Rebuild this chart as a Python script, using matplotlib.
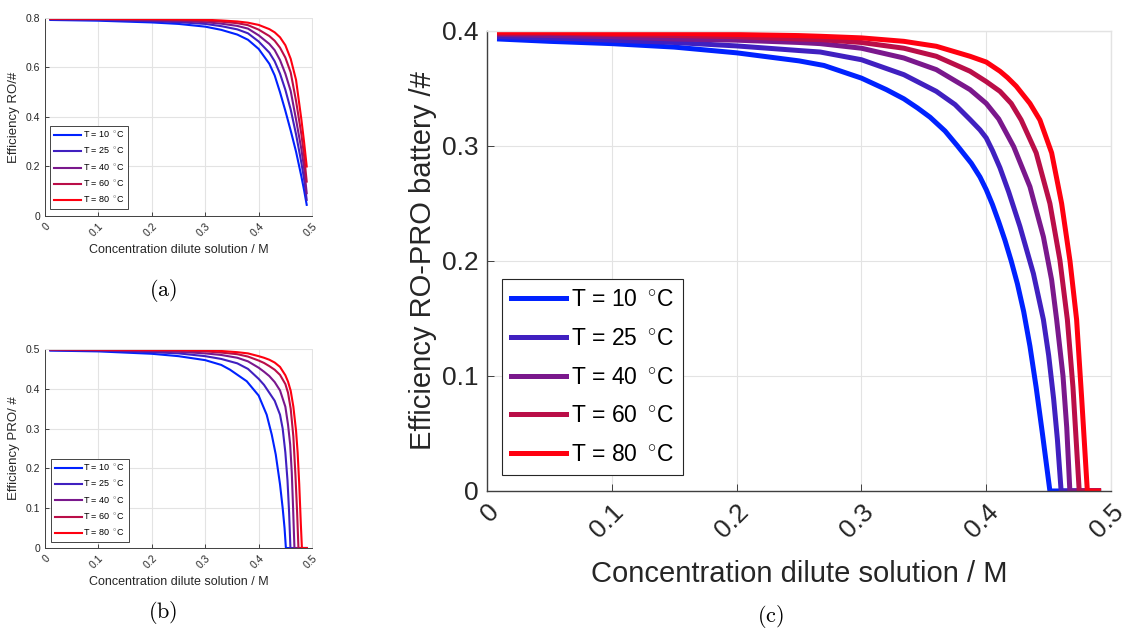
import matplotlib
matplotlib.use("Agg")
import matplotlib.pyplot as plt

plt.rcParams['font.family'] = ['Liberation Sans', 'DejaVu Sans']
plt.rcParams['mathtext.fontset'] = 'cm'

labels = ['T = 10 $\\,^{\\circ}$C', 'T = 25 $\\,^{\\circ}$C', 'T = 40 $\\,^{\\circ}$C',
          'T = 60 $\\,^{\\circ}$C', 'T = 80 $\\,^{\\circ}$C']
colors = ['#0022ff', '#4020c0', '#7a188c', '#ba0e48', '#ff0010']

# (a) RO efficiency, shared x
xa = [0.01, 0.1, 0.2, 0.25, 0.3, 0.33, 0.36, 0.38, 0.40, 0.42, 0.43, 0.44,
      0.45, 0.46, 0.47, 0.48, 0.485, 0.49]
ya10 = [0.792, 0.789, 0.782, 0.776, 0.765, 0.752, 0.733, 0.712, 0.675, 0.615,
        0.568, 0.50, 0.425, 0.345, 0.26, 0.16, 0.105, 0.045]
ya25 = [0.794, 0.792, 0.787, 0.783, 0.776, 0.767, 0.754, 0.738, 0.705, 0.66,
        0.625, 0.575, 0.51, 0.43, 0.33, 0.215, 0.15, 0.065]
ya40 = [0.796, 0.794, 0.791, 0.788, 0.783, 0.777, 0.768, 0.757, 0.73, 0.695,
        0.67, 0.63, 0.575, 0.505, 0.39, 0.27, 0.195, 0.092]
ya60 = [0.797, 0.796, 0.794, 0.792, 0.789, 0.785, 0.779, 0.771, 0.753, 0.727,
        0.708, 0.68, 0.64, 0.58, 0.465, 0.33, 0.245, 0.139]
ya80 = [0.798, 0.797, 0.796, 0.795, 0.793, 0.79, 0.786, 0.781, 0.772, 0.755,
        0.742, 0.722, 0.69, 0.635, 0.55, 0.39, 0.30, 0.2]

# (b) PRO efficiency
xb10 = [0.01, 0.1, 0.2, 0.25, 0.3, 0.33, 0.3464, 0.3777, 0.40, 0.415, 0.4245,
        0.432, 0.44, 0.445, 0.4485, 0.451, 0.49]
yb10 = [0.496, 0.494, 0.488, 0.482, 0.472, 0.46, 0.448, 0.419, 0.383, 0.335,
        0.285, 0.235, 0.16, 0.10, 0.05, 0.0, 0.0]
xb25 = [0.01, 0.1, 0.2, 0.25, 0.3, 0.33, 0.36, 0.38, 0.40, 0.41, 0.42, 0.43,
        0.44, 0.445, 0.45, 0.454, 0.457, 0.4595, 0.49]
yb25 = [0.497, 0.496, 0.492, 0.489, 0.482, 0.475, 0.464, 0.45, 0.425, 0.41,
        0.39, 0.37, 0.335, 0.30, 0.24, 0.17, 0.09, 0.0, 0.0]
xb40 = [0.01, 0.1, 0.2, 0.25, 0.3, 0.33, 0.36, 0.38, 0.40, 0.41, 0.42, 0.43,
        0.44, 0.45, 0.455, 0.459, 0.462, 0.4645, 0.467, 0.49]
yb40 = [0.498, 0.497, 0.495, 0.493, 0.489, 0.485, 0.478, 0.469, 0.453, 0.443,
        0.432, 0.417, 0.396, 0.355, 0.31, 0.26, 0.19, 0.1, 0.0, 0.0]
xb60 = [0.01, 0.1, 0.2, 0.25, 0.3, 0.33, 0.36, 0.38, 0.40, 0.41, 0.42, 0.43,
        0.44, 0.45, 0.455, 0.46, 0.465, 0.469, 0.472, 0.4745, 0.49]
yb60 = [0.499, 0.498, 0.497, 0.496, 0.494, 0.491, 0.487, 0.481, 0.471, 0.465,
        0.457, 0.448, 0.435, 0.412, 0.39, 0.35, 0.28, 0.18, 0.09, 0.0, 0.0]
xb80 = [0.01, 0.1, 0.2, 0.25, 0.3, 0.33, 0.36, 0.38, 0.40, 0.41, 0.42, 0.43,
        0.44, 0.45, 0.455, 0.46, 0.465, 0.47, 0.473, 0.476, 0.479, 0.481, 0.49]
yb80 = [0.5, 0.499, 0.498, 0.498, 0.497, 0.495, 0.492, 0.489, 0.482, 0.478,
        0.473, 0.466, 0.455, 0.434, 0.418, 0.395, 0.355, 0.295, 0.24, 0.16,
        0.06, 0.0, 0.0]

# (c) RO-PRO battery efficiency
xc10 = [0.01, 0.05, 0.1, 0.15, 0.2, 0.25, 0.27, 0.3, 0.32, 0.334, 0.345,
        0.355, 0.367, 0.377, 0.388, 0.395, 0.4, 0.405, 0.41, 0.415, 0.42,
        0.425, 0.43, 0.435, 0.44, 0.445, 0.451, 0.49]
yc10 = [0.393, 0.391, 0.389, 0.386, 0.381, 0.374, 0.370, 0.359, 0.349, 0.341,
        0.333, 0.325, 0.313, 0.30, 0.285, 0.273, 0.262, 0.249, 0.234, 0.218,
        0.200, 0.180, 0.156, 0.126, 0.090, 0.05, 0.0, 0.0]
xc25 = [0.01, 0.05, 0.1, 0.15, 0.2, 0.25, 0.267, 0.3, 0.334, 0.36, 0.375,
        0.387, 0.395, 0.4, 0.405, 0.411, 0.418, 0.427, 0.4378, 0.4458, 0.45,
        0.454, 0.457, 0.46, 0.49]
yc25 = [0.395, 0.394, 0.392, 0.390, 0.387, 0.383, 0.3817, 0.375, 0.362,
        0.3475, 0.336, 0.323, 0.314, 0.307, 0.296, 0.281, 0.26, 0.23, 0.189,
        0.149, 0.118, 0.08, 0.045, 0.0, 0.0]
xc40 = [0.01, 0.05, 0.1, 0.15, 0.2, 0.25, 0.267, 0.3, 0.334, 0.36, 0.387,
        0.4, 0.41, 0.422, 0.435, 0.4458, 0.4524, 0.4564, 0.4615, 0.4645, 0.467,
        0.49]
yc40 = [0.397, 0.396, 0.395, 0.393, 0.392, 0.390, 0.389, 0.385, 0.3765,
        0.3664, 0.349, 0.337, 0.3235, 0.2994, 0.2646, 0.221, 0.1835, 0.149,
        0.10, 0.055, 0.0, 0.0]
xc60 = [0.01, 0.05, 0.1, 0.15, 0.2, 0.25, 0.267, 0.3, 0.334, 0.36, 0.387,
        0.4, 0.411, 0.42, 0.428, 0.44, 0.451, 0.459, 0.465, 0.4695, 0.4745,
        0.49]
yc60 = [0.398, 0.398, 0.397, 0.396, 0.395, 0.393, 0.3925, 0.390, 0.385,
        0.378, 0.365, 0.356, 0.3475, 0.337, 0.3226, 0.294, 0.25, 0.2009, 0.149,
        0.09, 0.0, 0.0]
xc80 = [0.01, 0.05, 0.1, 0.15, 0.2, 0.25, 0.267, 0.3, 0.334, 0.36, 0.387,
        0.4, 0.411, 0.417, 0.424, 0.435, 0.443, 0.4524, 0.4604, 0.4671, 0.4724,
        0.4765, 0.481, 0.49]
yc80 = [0.399, 0.399, 0.398, 0.398, 0.397, 0.396, 0.3954, 0.394, 0.391,
        0.3867, 0.378, 0.373, 0.365, 0.3595, 0.352, 0.337, 0.3226, 0.294, 0.25,
        0.2, 0.149, 0.08, 0.0, 0.0]

fig = plt.figure(figsize=(11.29, 6.31), dpi=100)
ax_a = fig.add_axes([0.0399, 0.6577, 0.2365, 0.3138])
ax_b = fig.add_axes([0.0399, 0.1315, 0.2365, 0.3154])
ax_c = fig.add_axes([0.4314, 0.2219, 0.5527, 0.729])


def style(ax, ymax, yticks, fs_tick, fs_lab, xlab, ylab, lw_axis):
    ax.set_xlim(0, 0.5)
    ax.set_ylim(0, ymax)
    ax.set_xticks([0, 0.1, 0.2, 0.3, 0.4, 0.5])
    ax.set_xticklabels(['0', '0.1', '0.2', '0.3', '0.4', '0.5'],
                       rotation=45, ha='right', rotation_mode='anchor')
    ax.set_yticks(yticks)
    ax.set_yticklabels(['0' if t == 0 else f'{t:g}' for t in yticks])
    ax.grid(True, color='#e3e3e3', linewidth=0.8)
    ax.set_axisbelow(True)
    ax.tick_params(direction='in', labelsize=fs_tick, colors='#262626',
                   length=3, width=0.6)
    for s in ['left', 'bottom']:
        ax.spines[s].set_color('#404040')
        ax.spines[s].set_linewidth(lw_axis)
    for s in ['top', 'right']:
        ax.spines[s].set_color('#e3e3e3')
        ax.spines[s].set_linewidth(lw_axis)
    ax.set_xlabel(xlab, fontsize=fs_lab, color='#262626')
    ax.set_ylabel(ylab, fontsize=fs_lab, color='#262626')


def legend(ax, fs, anchor, lw, hl, ls):
    leg = ax.legend(loc='lower left', bbox_to_anchor=anchor, fontsize=fs,
                    fancybox=False, edgecolor='#262626', framealpha=1,
                    handlelength=hl, handletextpad=0.2, borderpad=0.4,
                    labelspacing=ls, borderaxespad=0)
    leg.get_frame().set_linewidth(lw)


for y, c, l in zip([ya10, ya25, ya40, ya60, ya80], colors, labels):
    ax_a.plot(xa, y, color=c, lw=1.5, label=l)
style(ax_a, 0.8, [0, 0.2, 0.4, 0.6, 0.8], 7.5, 9.5,
      'Concentration dilute solution / M', 'Efficiency RO/#', 0.7)
ax_a.xaxis.label.set_fontsize(9)
legend(ax_a, 6.5, (0.02, 0.035), 0.6, 3.0, 0.68)

xbs = [xb10, xb25, xb40, xb60, xb80]
ybs = [yb10, yb25, yb40, yb60, yb80]
for x, y, c, l in zip(xbs, ybs, colors, labels):
    ax_b.plot(x, y, color=c, lw=1.5, label=l)
style(ax_b, 0.5, [0, 0.1, 0.2, 0.3, 0.4, 0.5], 7.5, 9.5,
      'Concentration dilute solution / M', 'Efficiency PRO/ #', 0.7)
ax_b.xaxis.label.set_fontsize(9)
legend(ax_b, 6.5, (0.022, 0.03), 0.6, 3.0, 0.68)

xcs = [xc10, xc25, xc40, xc60, xc80]
ycs = [yc10, yc25, yc40, yc60, yc80]
for x, y, c, l in zip(xcs, ycs, colors, labels):
    ax_c.plot(x, y, color=c, lw=3.6, label=l)
style(ax_c, 0.4, [0, 0.1, 0.2, 0.3, 0.4], 19, 21,
      'Concentration dilute solution / M', 'Efficiency RO-PRO battery /#', 1.0)
ax_c.tick_params(length=5, pad=6)
ax_c.xaxis.labelpad = 13
legend(ax_c, 16.5, (0.024, 0.035), 0.8, 2.4, 0.68)

fig.text(163 / 1129, 1 - 290 / 631, r'$\mathrm{(a)}$', fontsize=16,
         ha='center', va='center')
fig.text(163 / 1129, 1 - 612 / 631, r'$\mathrm{(b)}$', fontsize=16,
         ha='center', va='center')
fig.text(770 / 1129, 1 - 617 / 631, r'$\mathrm{(c)}$', fontsize=16,
         ha='center', va='center')

fig.savefig('out.png', dpi=100)
